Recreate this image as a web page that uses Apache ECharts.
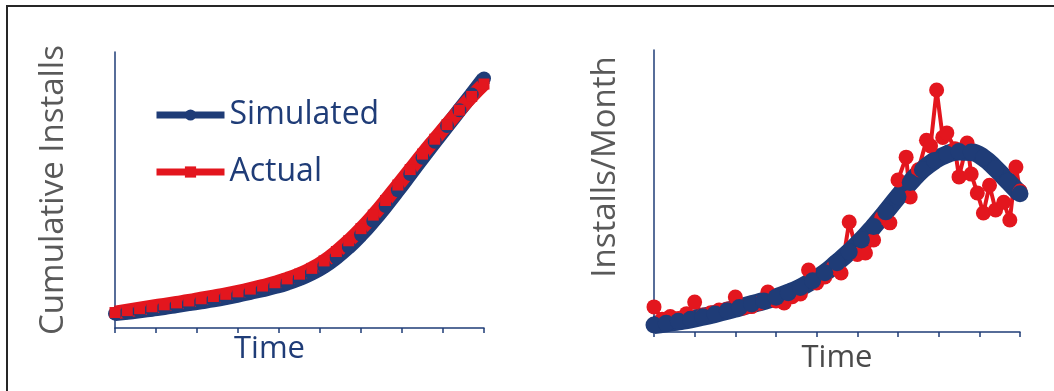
<!DOCTYPE html>
<html>
<head>
<meta charset="utf-8">
<script src="https://cdn.jsdelivr.net/npm/echarts@6/dist/echarts.min.js"></script>
<style>
  html, body { margin: 0; padding: 0; background: #fff; }
  #main { width: 1054px; height: 391px; }
</style>
</head>
<body>
<div id="main"></div>
<script>
// time steps (months) for the simulated curves
var simTime = [0,3,6,9,12,15,18,21,24,27,30,33,36,39,42,45,48,51,54,57,60,63,66,69,72,75,78,81,84,87,90];
// left panel: cumulative installs
var simCum = [5.2,5.7,6.2,6.8,7.4,8.1,8.8,9.5,10.2,11.0,11.9,12.9,13.9,15.0,16.3,17.9,19.9,22.4,25.6,29.4,33.8,38.8,44.2,49.9,55.8,61.7,67.5,73.2,78.9,84.6,90.4];
var actCum = [5.6,6.3,7.0,7.7,8.4,9.1,9.8,10.6,11.4,12.2,13.1,14.1,15.2,16.4,17.8,19.5,21.6,24.3,27.7,31.6,36.0,40.9,46.2,51.8,57.4,63.0,68.4,73.7,78.9,83.9,88.4];
// right panel: installs per month
var simMonthly = [2.5,3.1,3.8,4.5,5.4,6.4,7.5,8.7,9.9,11.0,12.3,13.9,15.8,18.2,21.0,24.6,28.4,32.6,37.4,42.6,48.0,53.0,57.5,60.8,63.0,64.0,63.8,61.8,58.0,53.5,49.0];
var actTime = [0,2,4,6,8,10,12,14,16,18,20,22,24,26,28,30,32,34,36,38,40,42,44,46,48,50,52,54,56,58,60,62,63,65,67,68,69.5,71,72,74,75,77,78,79.5,81,82.5,84,86,87.5,89,90];
var actMonthly = [8.9,4.5,5.5,4.8,6.5,10.6,6.0,6.8,7.8,8.2,12.4,8.5,9.0,10.2,14.2,11.0,10.3,12.5,13.5,22.0,17.4,19.5,22.8,20.9,39.0,27.5,28.0,32.6,40.5,38.7,53.9,62.0,47.9,57.5,68.0,66.0,85.8,69.0,70.6,65.0,55.0,67.0,56.0,49.3,42.2,52.0,43.3,46.0,39.7,58.5,50.0];

var navy = '#1f3c77';
var red = '#e3161e';
var font = 'Open Sans';

function pairs(xs, ys) {
  var out = [];
  for (var i = 0; i < xs.length; i++) {
    out.push([xs[i], ys[i]]);
  }
  return out;
}

var myChart = echarts.init(document.getElementById('main'));

function xAxisOf(idx, color, gap, pad) {
  return {
    type: 'value', gridIndex: idx, min: 0, max: 90, interval: 10,
    name: 'Time', nameLocation: 'middle', nameGap: gap,
    nameTextStyle: { fontFamily: font, fontSize: 31, color: color, padding: pad },
    axisLine: { onZero: false, lineStyle: { color: navy, width: 1.5 } },
    axisTick: { show: true, length: 5, lineStyle: { color: navy, width: 1.5 } },
    axisLabel: { show: false },
    splitLine: { show: false }
  };
}
function yAxisOf(idx, name, gap, pad) {
  return {
    type: 'value', gridIndex: idx, min: 0, max: 100,
    name: name, nameLocation: 'middle', nameGap: gap,
    nameTextStyle: { fontFamily: font, fontSize: 33, color: '#595959', padding: pad },
    axisLine: { show: true, lineStyle: { color: navy, width: 1.5 } },
    axisTick: { show: false },
    axisLabel: { show: false },
    splitLine: { show: false }
  };
}

option = {
  animation: false,
  backgroundColor: '#fff',
  graphic: [{
    type: 'polyline',
    shape: { points: [[7, 400], [7, 6], [1060, 6]] },
    style: { stroke: '#262626', lineWidth: 2, fill: null }
  }],
  legend: {
    data: ['Simulated', 'Actual'],
    orient: 'vertical',
    left: 148, top: 94,
    itemWidth: 68, itemHeight: 14, itemGap: 25,
    lineStyle: { width: 7 },
    textStyle: { fontFamily: font, fontSize: 32, color: navy }
  },
  grid: [
    { left: 115, top: 52, width: 369, height: 276 },
    { left: 654, top: 50, width: 366, height: 282 }
  ],
  xAxis: [xAxisOf(0, navy, 6, [0, 60, 0, 0]), xAxisOf(1, '#4a4a4a', 11, [0, 0, 0, 0])],
  yAxis: [yAxisOf(0, 'Cumulative Installs', 45, [0, 0, 0, 0]), yAxisOf(1, 'Installs/Month', 32, [0, 0, 0, 48])],
  series: [
    {
      name: 'Simulated', type: 'line', xAxisIndex: 0, yAxisIndex: 0,
      data: pairs(simTime, simCum), smooth: true,
      symbol: 'circle', symbolSize: 14,
      itemStyle: { color: navy }, lineStyle: { color: navy, width: 15 }
    },
    {
      name: 'Actual', type: 'line', xAxisIndex: 0, yAxisIndex: 0,
      data: pairs(simTime, actCum), smooth: true,
      symbol: 'rect', symbolSize: 11,
      itemStyle: { color: red }, lineStyle: { color: red, width: 14 }
    },
    {
      name: 'Actual', type: 'line', xAxisIndex: 1, yAxisIndex: 1,
      data: pairs(actTime, actMonthly),
      symbol: 'circle', symbolSize: 15,
      itemStyle: { color: red }, lineStyle: { color: red, width: 4 }
    },
    {
      name: 'Simulated', type: 'line', xAxisIndex: 1, yAxisIndex: 1,
      data: pairs(simTime, simMonthly), smooth: true,
      symbol: 'circle', symbolSize: 17,
      itemStyle: { color: navy }, lineStyle: { color: navy, width: 18 }
    }
  ]
};
myChart.setOption(option);
</script>
</body>
</html>
